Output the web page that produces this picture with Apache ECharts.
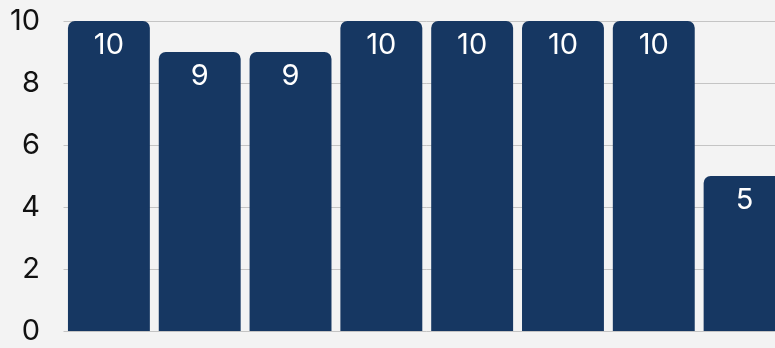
<!DOCTYPE html>
<html>
<head>
<meta charset="utf-8">
<script src="https://cdn.jsdelivr.net/npm/echarts@6/dist/echarts.min.js"></script>
<style>
html,body{margin:0;padding:0;background:#f3f3f3;overflow:hidden;width:775px;height:348px;}
#c{width:790px;height:348px;}
</style>
</head>
<body>
<div id="c"></div>
<script>
var categories = ['A','B','C','D','E','F','G','H'];
var values = [10, 9, 9, 10, 10, 10, 10, 5];
var yTicks = [0, 2, 4, 6, 8, 10];

var chart = echarts.init(document.getElementById('c'), null, {renderer:'canvas'});
chart.setOption({
  backgroundColor: '#f3f3f3',
  animation: false,
  grid: {left: 63.5, right: 0, top: 21, bottom: 17, containLabel: false},
  xAxis: {
    type: 'category',
    data: categories,
    axisLine: {show: false},
    axisTick: {show: false},
    axisLabel: {show: false}
  },
  yAxis: {
    type: 'value',
    min: yTicks[0],
    max: yTicks[yTicks.length-1],
    interval: 2,
    axisLine: {show: false},
    axisTick: {show: false},
    splitLine: {lineStyle: {color: '#c4c4c4', width: 1}},
    axisLabel: {
      margin: 23.5,
      color: '#111111',
      fontFamily: 'Inter',
      fontSize: 29,
      formatter: function(v){ return yTicks.indexOf(v) >= 0 ? String(v) : ''; }
    }
  },
  series: [{
    type: 'bar',
    data: values,
    barCategoryGap: '9.8%',
    itemStyle: {color: '#163762', borderRadius: [7,7,0,0]},
    label: {
      show: true,
      position: 'insideTop',
      distance: 10,
      color: '#ffffff',
      fontFamily: 'Inter',
      fontSize: 29
    }
  }]
});
</script>
</body>
</html>
